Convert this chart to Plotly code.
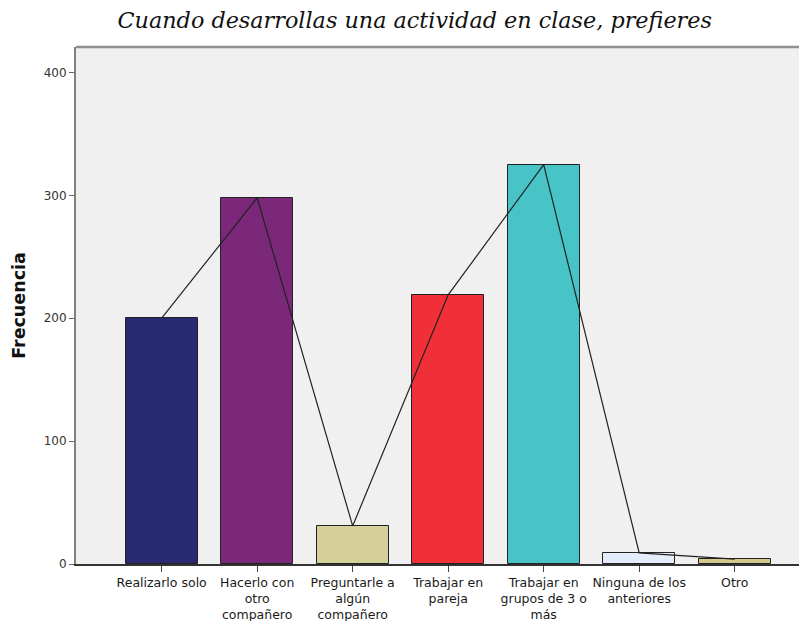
import plotly.graph_objects as go

categories = ["Realizarlo solo", "Hacerlo con<br>otro<br>compañero", "Preguntarle a<br>algún<br>compañero",
              "Trabajar en<br>pareja", "Trabajar en<br>grupos de 3 o<br>más", "Ninguna de los<br>anteriores", "Otro"]
values = [200, 298, 31, 219, 325, 9, 4]
colors = ["#282A72", "#7B287B", "#D5D09A", "#EF3039", "#48C3C6", "#E3EEFA", "#D4C98C"]
yticks = [0, 100, 200, 300, 400]

xs = list(range(len(categories)))

fig = go.Figure()
fig.add_trace(go.Bar(x=xs, y=values, width=0.754,
                     marker=dict(color=colors, line=dict(color="#222222", width=1)),
                     showlegend=False))
fig.add_trace(go.Scatter(x=xs, y=values, mode="lines",
                         line=dict(color="#222222", width=1.2), showlegend=False))

fig.update_layout(
    width=807, height=621,
    margin=dict(l=68, r=8, t=39, b=65),
    paper_bgcolor="white", plot_bgcolor="#F0F0F0",
    title=dict(text="Cuando desarrollas una actividad en clase, prefieres",
               font=dict(family="DejaVu Serif", size=22.3, color="#111111", style="italic"),
               x=0.504, xanchor="center", y=0.981, yanchor="middle"),
    bargap=0,
)
fig.update_xaxes(range=[-0.897, 6.757], tickvals=xs, ticktext=categories,
                 showgrid=False, zeroline=False, showline=True, linecolor="#333333", linewidth=1.5,
                 ticks="outside", ticklen=6, tickcolor="#444444",
                 tickfont=dict(family="DejaVu Sans", size=12.5, color="#1a1a1a"))
fig.update_yaxes(range=[0, 420.7], tickvals=yticks, showgrid=False, zeroline=False,
                 showline=True, linecolor="#808080", linewidth=2,
                 ticks="outside", ticklen=5, tickcolor="#666666",
                 tickfont=dict(family="DejaVu Sans", size=12, color="#333333"),
                 title=dict(text="<b>Frecuencia</b>", font=dict(family="DejaVu Sans", size=17.5, color="#111111"),
                            standoff=14))
fig.add_shape(type="line", xref="paper", yref="paper", x0=0, x1=1, y0=1, y1=1,
              line=dict(color="#909090", width=2.5))

fig.write_html("out.html")
